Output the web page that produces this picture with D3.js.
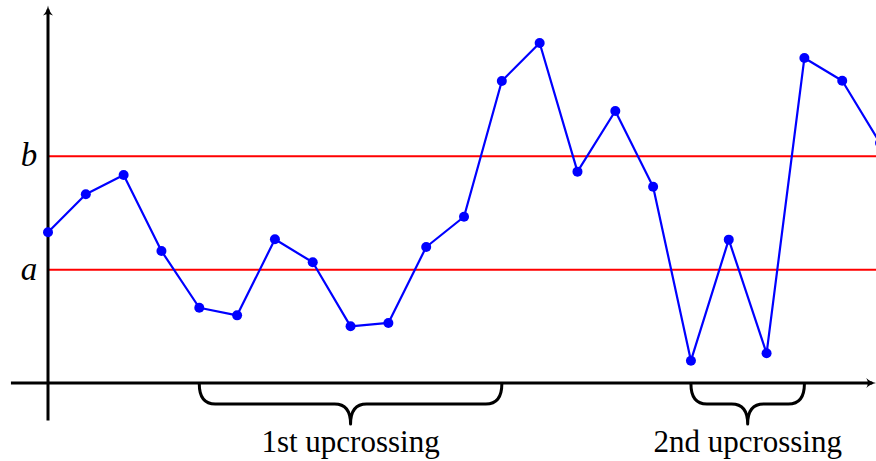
<!DOCTYPE html>
<html>
<head>
<meta charset="utf-8">
<script src="https://cdn.jsdelivr.net/npm/d3@7"></script>
<style>
  html, body { margin: 0; padding: 0; background: #fff; }
  svg { display: block; }
</style>
</head>
<body>
<svg id="chart" width="876" height="461"></svg>
<script>
// Sample path observed at equally spaced times t = 0..22
const times = d3.range(23);
const values = [1.33, 1.665, 1.835, 1.165, 0.664, 0.597, 1.268, 1.065, 0.50, 0.53,
                1.20, 1.467, 2.665, 3.0, 1.865, 2.40, 1.732, 0.197, 1.265, 0.262,
                2.868, 2.667, 2.118];

// Lower and upper levels
const levelNames = ["a", "b"];
const levelValues = [1, 2];

// Upcrossing intervals (start index, end index) and their captions
const upcrossStart = [4, 17];
const upcrossEnd = [12, 20];
const upcrossLabels = ["1st upcrossing", "2nd upcrossing"];

// Axis extents in data units
const xAxisExtent = [-0.98, 21.9];
const yAxisExtent = [-0.33, 3.33];

const W = 876, H = 461;
const svg = d3.select("#chart");

const x = d3.scaleLinear().domain([0, 22]).range([48, 48 + 22 * 37.82]);
const y = d3.scaleLinear().domain([0, 3]).range([383, 43]);

// Threshold lines
svg.append("g").selectAll("line").data(levelValues).join("line")
  .attr("x1", x(0)).attr("x2", W)
  .attr("y1", d => y(d)).attr("y2", d => y(d))
  .attr("stroke", "#ff0000").attr("stroke-width", 2);

svg.append("g").selectAll("text").data(levelNames).join("text")
  .attr("x", 29).attr("y", (d, i) => y(levelValues[i]) + 10)
  .attr("text-anchor", "middle")
  .attr("font-family", "'Liberation Serif', 'DejaVu Serif', serif")
  .attr("font-style", "italic")
  .attr("font-size", 33)
  .attr("fill", "#000")
  .text(d => d);

// Axes with arrow tips
function arrowHead(g, tipX, tipY, dir) {
  // dir: "right" or "up"
  const L = 10, Wd = 5;
  let p;
  if (dir === "right") {
    p = `M${tipX},${tipY} Q${tipX - L * 0.6},${tipY - 1} ${tipX - L},${tipY - Wd} ` +
        `Q${tipX - L * 0.7},${tipY} ${tipX - L},${tipY + Wd} Q${tipX - L * 0.6},${tipY + 1} ${tipX},${tipY}Z`;
  } else {
    p = `M${tipX},${tipY} Q${tipX - 1},${tipY + L * 0.6} ${tipX - Wd},${tipY + L} ` +
        `Q${tipX},${tipY + L * 0.7} ${tipX + Wd},${tipY + L} Q${tipX + 1},${tipY + L * 0.6} ${tipX},${tipY}Z`;
  }
  g.append("path").attr("d", p).attr("fill", "#000");
}

const axes = svg.append("g");
axes.append("line")
  .attr("x1", x(xAxisExtent[0])).attr("x2", x(xAxisExtent[1]) - 4)
  .attr("y1", y(0)).attr("y2", y(0))
  .attr("stroke", "#000").attr("stroke-width", 3);
arrowHead(axes, x(xAxisExtent[1]), y(0), "right");

axes.append("line")
  .attr("x1", x(0)).attr("x2", x(0))
  .attr("y1", y(yAxisExtent[0])).attr("y2", y(yAxisExtent[1]) + 4)
  .attr("stroke", "#000").attr("stroke-width", 3);
arrowHead(axes, x(0), y(yAxisExtent[1]), "up");

// Sample path
const pts = times.map((t, i) => [t, values[i]]);
svg.append("path")
  .datum(pts)
  .attr("fill", "none")
  .attr("stroke", "#0000ff")
  .attr("stroke-width", 2.2)
  .attr("stroke-linejoin", "round")
  .attr("d", d3.line().x(d => x(d[0])).y(d => y(d[1])));

svg.append("g").selectAll("circle").data(pts).join("circle")
  .attr("cx", d => x(d[0])).attr("cy", d => y(d[1]))
  .attr("r", 5).attr("fill", "#0000ff");

// Braces under the time axis marking each upcrossing
function bracePath(x1, x2, top) {
  const h = 20, r = 16, cx = (x1 + x2) / 2;
  const mid = top + h, tip = top + 2 * h;
  return `M${x1},${top} Q${x1},${mid} ${x1 + r},${mid} ` +
         `L${cx - r},${mid} Q${cx},${mid} ${cx},${tip} ` +
         `Q${cx},${mid} ${cx + r},${mid} ` +
         `L${x2 - r},${mid} Q${x2},${mid} ${x2},${top}`;
}

const braces = svg.append("g");
upcrossLabels.forEach((lab, i) => {
  const x1 = x(upcrossStart[i]), x2 = x(upcrossEnd[i]);
  braces.append("path")
    .attr("d", bracePath(x1, x2, y(0) + 1))
    .attr("fill", "none").attr("stroke", "#000").attr("stroke-width", 3)
    .attr("stroke-linejoin", "round");
  braces.append("text")
    .attr("x", (x1 + x2) / 2).attr("y", 452)
    .attr("text-anchor", "middle")
    .attr("font-family", "'Liberation Serif', 'DejaVu Serif', serif")
    .attr("font-size", 31)
    .attr("fill", "#000")
    .text(lab);
});
</script>
</body>
</html>
